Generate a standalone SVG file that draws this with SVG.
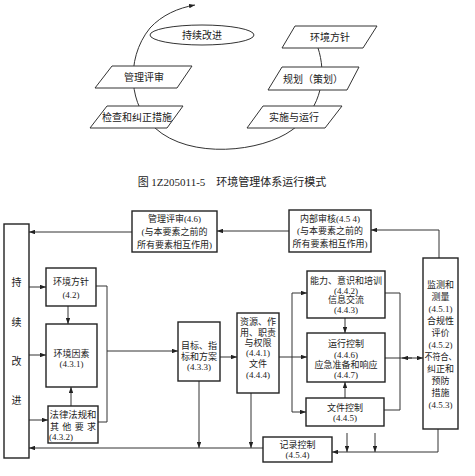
<svg xmlns="http://www.w3.org/2000/svg" width="475" height="476" viewBox="0 0 475 476">
<style>
text{font-family:"Liberation Serif","Noto Sans CJK SC",serif;fill:#222;text-anchor:middle;dominant-baseline:central}
.t{font-size:9px}
.s{font-size:10px}
.b{fill:#fff;stroke:#222;stroke-width:1.4}
.p{fill:#fff;stroke:#333;stroke-width:1}
.l{fill:none;stroke:#333;stroke-width:1}
.la{fill:none;stroke:#333;stroke-width:1;marker-end:url(#a)}
</style>
<defs>
<marker id="a" viewBox="0 0 8 6" refX="8" refY="3" markerWidth="6" markerHeight="4.5" orient="auto" markerUnits="userSpaceOnUse"><path d="M0,0 L8,3 L0,6 z" fill="#222"/></marker>
</defs>
<rect width="475" height="476" fill="#fff"/>

<!-- Top cycle diagram -->
<g id="cycle">
<path class="la" d="M318 48 C326 72,324 108,292 130 C262 152,190 160,155 128 C130 108,124 60,150 28 C162 15,178 8,195 5"/>
</g>
<g id="n-top-ci"><ellipse class="p" cx="202" cy="35" rx="52" ry="10"/><text class="s" x="202" y="35">持续改进</text></g>
<g id="n-top-policy"><polygon class="p" points="295,26 377,26 363,48 282,48"/><text class="s" x="330" y="37">环境方针</text></g>
<g id="n-top-plan"><polygon class="p" points="282,67 359,67 347,90 268,90"/><text class="s" x="313" y="79">规划（策划）</text></g>
<g id="n-top-impl"><polygon class="p" points="263,106 342,106 325,128 247,128"/><text class="s" x="294" y="117">实施与运行</text></g>
<g id="n-top-review"><polygon class="p" points="112,66 192,66 177,88 95,88"/><text class="s" x="144" y="77">管理评审</text></g>
<g id="n-top-check"><polygon class="p" points="107,106 183,106 167,128 90,128"/><text class="s" x="137" y="117">检查和纠正措施</text></g>
<text id="caption" x="232" y="182" style="font-size:11px">图 1Z205011-5　环境管理体系运行模式</text>

<!-- Connectors of lower diagram -->
<g id="connectors">
<path class="la" d="M132 232 H29"/>
<path class="la" d="M289 231 H217"/>
<path class="la" d="M439 258 V230 H371"/>
<path class="la" d="M29 287 H46"/>
<path class="la" d="M68 306 V324"/>
<path class="la" d="M29 355 H46"/>
<path class="la" d="M29 420 H48"/>
<path class="la" d="M71 406 V387"/>
<path class="l" d="M96 286 H107 V422 H98"/>
<path class="la" d="M107 351 H178"/>
<path class="la" d="M220 357 H237"/>
<path class="la" d="M199 381 V448"/>
<path class="la" d="M251 393 V448"/>
<path class="la" d="M263 448 H29"/>
<path class="la" d="M279 357 H307"/>
<path class="la" d="M292 357 V293 H307"/>
<path class="la" d="M292 357 V412 H306"/>
<path class="la" d="M345 318 V333"/>
<path class="la" d="M345 398 V382"/>
<path class="l" d="M385 293 H400 V410 H384"/>
<path class="la" d="M385 358 H423"/>
<path class="la" d="M412 358 H402"/>
<path class="la" d="M438 429 V452 H332"/>
<path class="la" d="M347 433 V452"/>
<path class="la" d="M375 433 V452"/>
</g>

<!-- Lower diagram nodes -->
<g id="n-ci"><rect class="b" x="4" y="224" width="25" height="234"/>
<text class="s" x="16.5" y="282">持</text><text class="s" x="16.5" y="322">续</text><text class="s" x="16.5" y="361">改</text><text class="s" x="16.5" y="400">进</text></g>
<g id="n-review"><rect class="b" x="132" y="211" width="85" height="41"/>
<text class="t" x="174.5" y="219">管理评审(4.6)</text><text class="t" x="174.5" y="232">(与本要素之前的</text><text class="t" x="174.5" y="245">所有要素相互作用)</text></g>
<g id="n-audit"><rect class="b" x="289" y="210" width="82" height="42"/>
<text class="t" x="330" y="219">内部审核(4.5 4)</text><text class="t" x="330" y="231">(与本要素之前的</text><text class="t" x="330" y="244">所有要素相互作用)</text></g>
<g id="n-policy"><rect class="b" x="46" y="268" width="50" height="38"/>
<text class="t" x="71" y="282">环境方针</text><text class="t" x="71" y="295">(4.2)</text></g>
<g id="n-aspects"><rect class="b" x="46" y="324" width="51" height="63"/>
<text class="t" x="71.5" y="354">环境因素</text><text class="t" x="71.5" y="364">(4.3.1)</text></g>
<g id="n-legal"><rect class="b" x="48" y="406" width="50" height="37"/>
<text class="t" x="73" y="415" textLength="47" lengthAdjust="spacingAndGlyphs">法律法规和</text><text class="t" x="73" y="427" textLength="46" lengthAdjust="spacing">其他要求</text><text class="t" x="49" y="437" style="text-anchor:start">(4.3.2)</text></g>
<g id="n-objectives"><rect class="b" x="178" y="322" width="42" height="59"/>
<text class="t" x="199" y="346">目标、指</text><text class="t" x="199" y="357">标和方案</text><text class="t" x="199" y="367">(4.3.3)</text></g>
<g id="n-resources"><rect class="b" x="237" y="313" width="42" height="80"/>
<text class="t" x="258" y="322">资源、作</text><text class="t" x="258" y="333">用、职责</text><text class="t" x="258" y="343">与权限</text><text class="t" x="258" y="353">(4.4.1)</text><text class="t" x="258" y="364">文件</text><text class="t" x="258" y="375">(4.4.4)</text></g>
<g id="n-competence"><rect class="b" x="307" y="271" width="78" height="47"/>
<text class="t" x="346" y="281">能力、意识和培训</text><text class="t" x="346" y="291">(4.4.2)</text><text class="t" x="346" y="300">信息交流</text><text class="t" x="346" y="310">(4.4.3)</text></g>
<g id="n-operation"><rect class="b" x="307" y="333" width="78" height="49"/>
<text class="t" x="346" y="344">运行控制</text><text class="t" x="346" y="355">(4.4.6)</text><text class="t" x="346" y="365">应急准备和响应</text><text class="t" x="346" y="375">(4.4.7)</text></g>
<g id="n-doccontrol"><rect class="b" x="306" y="398" width="78" height="28"/>
<text class="t" x="345" y="408">文件控制</text><text class="t" x="345" y="418">(4.4.5)</text></g>
<g id="n-monitor"><rect class="b" x="423" y="258" width="35" height="171"/>
<text class="t" x="440.5" y="285">监测和</text><text class="t" x="440.5" y="297">测量</text><text class="t" x="440.5" y="309">(4.5.1)</text><text class="t" x="440.5" y="321">合规性</text><text class="t" x="440.5" y="333">评价</text><text class="t" x="440.5" y="345">(4.5.2)</text><text class="t" x="440.5" y="357" textLength="32" lengthAdjust="spacingAndGlyphs">不符合、</text><text class="t" x="440.5" y="369">纠正和</text><text class="t" x="440.5" y="381">预防</text><text class="t" x="440.5" y="393">措施</text><text class="t" x="440.5" y="405">(4.5.3)</text></g>
<g id="n-records"><rect class="b" x="263" y="437" width="69" height="25"/>
<text class="t" x="297.5" y="445">记录控制</text><text class="t" x="297.5" y="455">(4.5.4)</text></g>
</svg>
